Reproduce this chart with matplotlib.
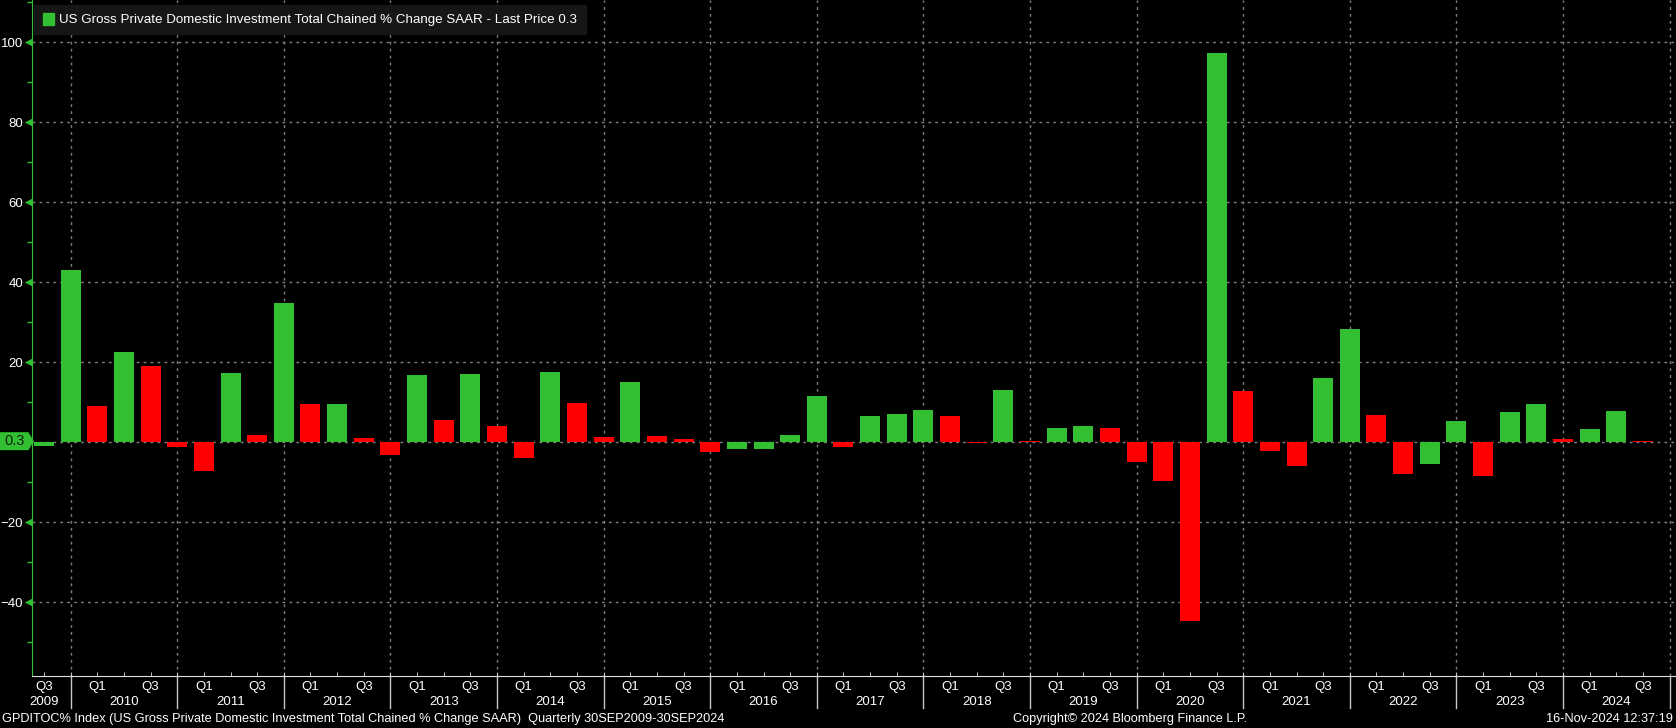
import numpy as np
import matplotlib.pyplot as plt
from matplotlib.patches import Rectangle, Polygon
from matplotlib.transforms import blended_transform_factory

plt.rcParams['font.family'] = ['Liberation Sans', 'DejaVu Sans']

# quarterly % change SAAR, Q3 2009 .. Q3 2024
values = [-1.0, 43.1, 9.1, 22.6, 19.0, -1.1, -7.2, 17.3, 1.9, 34.8,
          9.6, 9.7, 1.1, -3.2, 16.8, 5.5, 17.0, 4.0, -4.0, 17.5,
          9.9, 1.4, 15.0, 1.6, 0.9, -2.5, -1.7, -1.6, 1.9, 11.7,
          -1.2, 6.5, 7.0, 8.1, 6.5, -0.2, 13.0, 0.3, 3.5, 4.0,
          3.5, -4.9, -9.7, -44.6, 97.3, 12.8, -2.2, -6.0, 16.1, 28.4,
          6.9, -7.9, -5.3, 5.4, -8.5, 7.7, 9.7, 0.8, 3.4, 7.9,
          0.3]
# G = up vs previous quarter, R = down
bar_dirs = ("GGRGRRRGRG" "RGRRGRGRRG" "RRGRRRGGGG" "RGGGRRGRGG"
            "RRRRGRRRGG" "RRGGRGGRGG" "R")
years = list(range(2009, 2025))
first_year, first_q = 2009, 3
last_price = 0.3
y_ticks = [-40, -20, 20, 40, 60, 80, 100]

title = "US Gross Private Domestic Investment Total Chained % Change SAAR - Last Price 0.3"
footer_left = ("GPDITOC% Index (US Gross Private Domestic Investment Total Chained % Change SAAR)  "
               "Quarterly 30SEP2009-30SEP2024")
footer_mid = "Copyright\u00a9 2024 Bloomberg Finance L.P."
footer_right = "16-Nov-2024 12:37:19"

GREEN = '#32c032'
RED = '#ff0000'
GRID = '#808080'
FS = 9.5

W, H = 1676, 728
def fx(px):
    return px / W
def fy(py):
    return 1 - py / H

fig = plt.figure(figsize=(W / 100, H / 100), dpi=100, facecolor='black')
ax = fig.add_axes([fx(32), fy(675.6), 1 - fx(32), fy(0) - fy(675.6)])
ax.set_facecolor('black')

x = np.arange(len(values))
colors = [GREEN if d == 'G' else RED for d in bar_dirs]
ax.bar(x, values, width=0.75, color=colors, zorder=3)

ax.set_xlim(-0.45, 61.24)
ax.set_ylim(-58.3, 110.6)

# quarter index; Q4 of each year -> year separators / vertical grid
def qidx(year, q):
    return (year - first_year) * 4 + (q - first_q)

seps = [qidx(y, 4) for y in years]
for s in seps:
    ax.axvline(s, color=GRID, lw=1, ls=(0, (2, 3)), zorder=1)
for t in y_ticks + [0]:
    ax.axhline(t, color=GRID, lw=1, ls=(0, (2, 3)), zorder=1)

# y axis
ax.set_yticks(y_ticks)
ax.set_yticks([-50, -30, -10, 10, 30, 50, 70, 90, 110], minor=True)
ax.tick_params(axis='y', which='major', length=0, pad=6.5, labelcolor='white', labelsize=FS)
ax.tick_params(axis='y', which='minor', length=3.5, color=GREEN, width=1)
ty = blended_transform_factory(ax.transAxes, ax.transData)
ax.scatter([-4 / (W - 32)] * len(y_ticks), y_ticks, marker='<', s=28, color=GREEN,
           transform=ty, clip_on=False, zorder=5, linewidths=0)

for side in ['top', 'right']:
    ax.spines[side].set_visible(False)
ax.spines['left'].set_color(GREEN)
ax.spines['bottom'].set_color('#e0e0e0')

# x axis: quarter ticks and labels drawn by hand
ax.set_xticks(x, minor=True)
ax.set_xticks([])
ax.tick_params(axis='x', which='minor', length=3, color='#e0e0e0', direction='in')
tx = blended_transform_factory(ax.transData, fig.transFigure)
for s in seps:
    ax.plot([s, s], [fy(675.6), fy(708)], color='#c8c8c8', lw=1, transform=tx, clip_on=False)
for y in years:
    for q in (1, 3):
        i = qidx(y, q)
        if 0 <= i < len(values):
            fig.text(i, fy(687), f"Q{q}", transform=tx, color='white', fontsize=FS,
                     ha='center', va='center')
    ypos = 0 if y == first_year else qidx(y, 2)
    fig.text(ypos, fy(702), str(y), transform=tx, color='white', fontsize=FS,
             ha='center', va='center')

# last price tag
tag = blended_transform_factory(fig.transFigure, ax.transData)
h = 8.3 / 4
ax.add_patch(Polygon([[fx(0), last_price - h], [fx(28), last_price - h], [fx(33), last_price],
                      [fx(28), last_price + h], [fx(0), last_price + h]],
                     closed=True, color=GREEN, transform=tag, clip_on=False, zorder=6))
fig.text(fx(15), last_price, "0.3", transform=tag, color='#102010', fontsize=10.5,
         ha='center', va='center', zorder=7)

# legend box
fig.patches.append(Rectangle((fx(34), fy(34)), fx(586) - fx(34), fy(5) - fy(34),
                             transform=fig.transFigure, color='#161616', zorder=4))
fig.patches.append(Rectangle((fx(43), fy(25)), fx(11), fy(13) - fy(25),
                             transform=fig.transFigure, color=GREEN, zorder=5))
fig.text(fx(59), fy(19.5), title, color='white', fontsize=9.6, ha='left', va='center', zorder=6)

# footer
fig.text(fx(2), fy(719), footer_left, color='white', fontsize=9.2, ha='left', va='center')
fig.text(fx(1130), fy(719), footer_mid, color='white', fontsize=9.2, ha='center', va='center')
fig.text(fx(1673), fy(719), footer_right, color='white', fontsize=9.2, ha='right', va='center')

fig.savefig('out.png', dpi=100, facecolor='black')
